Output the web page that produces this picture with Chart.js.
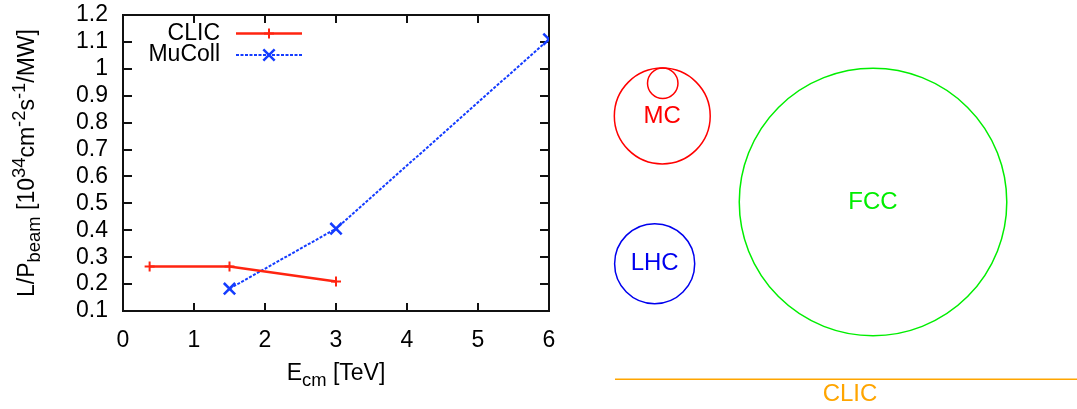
<!DOCTYPE html>
<html>
<head>
<meta charset="utf-8">
<script src="https://cdn.jsdelivr.net/npm/chart.js@4.4.1/dist/chart.umd.min.js"></script>
<style>
  html, body { margin: 0; padding: 0; background: #fff; }
  #wrap { position: relative; width: 1077px; height: 409px; overflow: hidden; }
  #lumi { position: absolute; left: 0; top: 0; }
  #rings { position: absolute; left: 560px; top: 0; }
</style>
</head>
<body>
<div id="wrap">
  <canvas id="lumi" width="560" height="409"></canvas>
  <canvas id="rings" width="517" height="409"></canvas>
</div>
<script>
// luminosity per beam power vs energy
const clicEnergy = [0.375, 1.5, 3];
const clicLumi = [0.265, 0.265, 0.21];
const mucollEnergy = [1.5, 3, 6];
const mucollLumi = [0.183, 0.406, 1.11];
const xTickValues = [0, 1, 2, 3, 4, 5, 6];
const yTickValues = [0.1, 0.2, 0.3, 0.4, 0.5, 0.6, 0.7, 0.8, 0.9, 1, 1.1, 1.2];

// footprint sketch, units in km
const ringLabels = ['MC', '', 'LHC', 'FCC'];
const ringX = [10.88, 10.93, 10.07, 33.3];
const ringY = [31.17, 34.65, 15.46, 22.02];
const ringR = [5.1, 1.62, 4.26, 14.23];
const linacLabel = 'CLIC';
const linacX = [5.85, 55.85];
const linacY = [3.16, 3.16];

const FONT = "'Liberation Sans', Arial, Helvetica, sans-serif";
Chart.defaults.font.family = FONT;
Chart.defaults.color = '#000';

const RED = 'rgb(255,36,16)';
const BLUE = 'rgb(20,60,255)';
const ringColors = ['#ff0000', '#ff0000', '#0000ee', '#00ee00'];

// plot box in the left canvas
const BOX = { left: 123, top: 15, right: 549, bottom: 311 };

function pairs(xs, ys) {
  return xs.map((x, i) => ({x: x, y: ys[i]}));
}

// text with sub/superscripts, parts = [[text, shift]], shift -1 sub, 1 sup
function richWidth(ctx, parts, size) {
  let w = 0;
  parts.forEach(p => {
    ctx.font = (p[1] ? size * 0.8 : size) + 'px ' + FONT;
    w += ctx.measureText(p[0]).width;
  });
  return w;
}
function drawRich(ctx, parts, size, cx, cy) {
  let x = cx - richWidth(ctx, parts, size) / 2;
  ctx.textAlign = 'left';
  ctx.textBaseline = 'alphabetic';
  parts.forEach(p => {
    ctx.font = (p[1] ? size * 0.8 : size) + 'px ' + FONT;
    let dy = p[1] == -1 ? 6 : (p[1] == 1 ? -9 : 0);
    ctx.fillText(p[0], x, cy + dy);
    x += ctx.measureText(p[0]).width;
  });
}

function drawMarker(ctx, style, x, y, r) {
  ctx.beginPath();
  if (style == 'cross') {
    ctx.moveTo(x - r, y); ctx.lineTo(x + r, y);
    ctx.moveTo(x, y - r); ctx.lineTo(x, y + r);
  } else {
    let d = r * Math.SQRT1_2;
    ctx.moveTo(x - d, y - d); ctx.lineTo(x + d, y + d);
    ctx.moveTo(x - d, y + d); ctx.lineTo(x + d, y - d);
  }
  ctx.stroke();
}

// gnuplot style frame with inward ticks
const frame = {
  id: 'frame',
  beforeDatasetsDraw(chart) {
    const ctx = chart.ctx;
    const sx = chart.scales.x, sy = chart.scales.y;
    const L = BOX.left, R = BOX.right, T = BOX.top, B = BOX.bottom;
    const w = 2;
    ctx.save();
    ctx.fillStyle = '#111';
    ctx.fillRect(L - 1, T - 1, R - L + w, w);
    ctx.fillRect(L - 1, B - 1, R - L + w, w);
    ctx.fillRect(L - 1, T - 1, w, B - T + w);
    ctx.fillRect(R - 1, T - 1, w, B - T + w);
    xTickValues.forEach(v => {
      let px = Math.round(sx.getPixelForValue(v));
      ctx.fillRect(px - 1, B - 8, w, 8);
      ctx.fillRect(px - 1, T, w, 8);
    });
    yTickValues.forEach(v => {
      let py = Math.round(sy.getPixelForValue(v));
      ctx.fillRect(L, py - 1, 9, w);
      ctx.fillRect(R - 9, py - 1, 9, w);
    });
    ctx.restore();
  },
  afterDraw(chart) {
    const ctx = chart.ctx;
    ctx.save();
    ctx.fillStyle = '#000';
    drawRich(ctx, [['E', 0], ['cm', -1], [' [TeV]', 0]], 23, (BOX.left + BOX.right) / 2, 380);
    ctx.translate(34, (BOX.top + BOX.bottom) / 2);
    ctx.rotate(-Math.PI / 2);
    drawRich(ctx, [['L/P', 0], ['beam', -1], [' [10', 0], ['34', 1], ['cm', 0], ['-2', 1],
      ['s', 0], ['-1', 1], ['/MW]', 0]], 23, 0, 0);
    ctx.restore();
  }
};

const lumiLegend = {
  id: 'lumiLegend',
  afterDatasetsDraw(chart) {
    const ctx = chart.ctx;
    chart.data.datasets.forEach((ds, i) => {
      let y = 33.5 + i * 21.5;
      ctx.save();
      ctx.font = '23px ' + FONT;
      ctx.fillStyle = '#000';
      ctx.textAlign = 'right';
      ctx.textBaseline = 'middle';
      ctx.fillText(ds.label, 220, y);
      ctx.strokeStyle = ds.borderColor;
      ctx.lineWidth = ds.borderWidth;
      ctx.setLineDash(ds.borderDash || []);
      ctx.beginPath();
      ctx.moveTo(236, y); ctx.lineTo(302, y);
      ctx.stroke();
      ctx.setLineDash([]);
      ctx.lineWidth = ds.pointBorderWidth;
      drawMarker(ctx, ds.pointStyle, 269, y, ds.pointRadius);
      ctx.restore();
    });
  }
};

// pin the plot box to BOX whatever the labels ask for
const pinBox = {
  id: 'pinBox',
  afterLayout(chart) {
    const a = chart.chartArea;
    Object.assign(a, BOX, { width: BOX.right - BOX.left, height: BOX.bottom - BOX.top });
    const sx = chart.scales.x, sy = chart.scales.y;
    sx.left = BOX.left; sx.right = BOX.right; sx.width = BOX.right - BOX.left;
    sx.top = BOX.bottom; sx.bottom = 409; sx.height = 409 - BOX.bottom;
    sy.top = BOX.top; sy.bottom = BOX.bottom; sy.height = BOX.bottom - BOX.top;
    sy.left = 0; sy.right = BOX.left; sy.width = BOX.left;
    sx.configure(); sy.configure();
  }
};

new Chart(document.getElementById('lumi'), {
  type: 'scatter',
  data: {
    datasets: [
      {
        label: 'CLIC',
        data: pairs(clicEnergy, clicLumi),
        showLine: true,
        borderColor: RED,
        backgroundColor: RED,
        borderWidth: 2.5,
        pointStyle: 'cross',
        pointRadius: 5,
        pointBorderWidth: 2,
        pointBorderColor: RED
      },
      {
        label: 'MuColl',
        data: pairs(mucollEnergy, mucollLumi),
        showLine: true,
        borderColor: BLUE,
        backgroundColor: BLUE,
        borderWidth: 2,
        borderDash: [3, 1.5],
        pointStyle: 'crossRot',
        pointRadius: 8,
        pointBorderWidth: 2.5,
        pointBorderColor: BLUE
      }
    ]
  },
  options: {
    responsive: false,
    animation: false,
    events: [],
    layout: { padding: 0 },
    plugins: { legend: { display: false }, tooltip: { enabled: false } },
    scales: {
      x: {
        type: 'linear', min: 0, max: 6,
        grid: { display: false, drawTicks: false },
        border: { display: false },
        afterBuildTicks: s => { s.ticks = xTickValues.map(v => ({value: v})); },
        ticks: { padding: 16, autoSkip: false, maxRotation: 0, font: { size: 23 }, color: '#000', callback: v => String(v) }
      },
      y: {
        type: 'linear', min: 0.1, max: 1.2,
        grid: { display: false, drawTicks: false },
        border: { display: false },
        afterBuildTicks: s => { s.ticks = yTickValues.map(v => ({value: v})); },
        ticks: { padding: 15, autoSkip: false, font: { size: 23 }, color: '#000', callback: v => String(v) }
      }
    }
  },
  plugins: [pinBox, frame, lumiLegend]
});

function kmToPx(chart, r) {
  const s = chart.scales.x;
  return Math.abs(s.getPixelForValue(r) - s.getPixelForValue(0));
}

const ringText = {
  id: 'ringText',
  afterDatasetsDraw(chart) {
    const ctx = chart.ctx;
    const sx = chart.scales.x, sy = chart.scales.y;
    ctx.save();
    ctx.font = '24px ' + FONT;
    ctx.textAlign = 'center';
    ctx.textBaseline = 'middle';
    ringLabels.forEach((lab, i) => {
      if (!lab) return;
      ctx.fillStyle = ringColors[i];
      ctx.fillText(lab, sx.getPixelForValue(ringX[i]), sy.getPixelForValue(ringY[i]));
    });
    ctx.fillStyle = '#ffa500';
    ctx.fillText(linacLabel, sx.getPixelForValue((linacX[0] + linacX[1]) / 2),
      sy.getPixelForValue(linacY[0]) + 15);
    ctx.restore();
  }
};

new Chart(document.getElementById('rings'), {
  type: 'scatter',
  data: {
    datasets: [
      {
        label: 'rings',
        data: pairs(ringX, ringY),
        showLine: false,
        pointStyle: 'circle',
        pointRadius: c => kmToPx(c.chart, ringR[c.dataIndex]),
        pointBorderColor: ringColors,
        pointBackgroundColor: 'rgba(0,0,0,0)',
        pointBorderWidth: 1.5
      },
      {
        label: linacLabel,
        data: pairs(linacX, linacY),
        showLine: true,
        borderColor: '#ffa500',
        borderWidth: 1.5,
        pointRadius: 0
      }
    ]
  },
  options: {
    responsive: false,
    animation: false,
    events: [],
    layout: { padding: 0 },
    plugins: { legend: { display: false }, tooltip: { enabled: false } },
    scales: {
      x: { type: 'linear', display: false, min: 0, max: 55 },
      y: { type: 'linear', display: false, min: 0, max: 43.51 }
    }
  },
  plugins: [ringText]
});
</script>
</body>
</html>
